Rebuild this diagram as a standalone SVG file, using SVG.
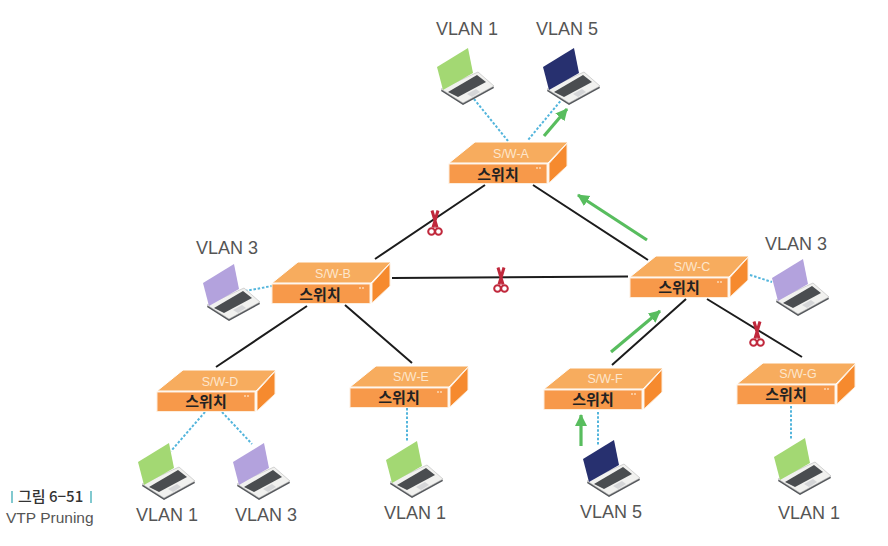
<svg xmlns="http://www.w3.org/2000/svg" width="888" height="546" viewBox="0 0 888 546">
<style>
.v{font:18px "Liberation Sans",Arial,sans-serif;fill:#555;text-anchor:middle}
.n{font:12.500px "Liberation Sans",Arial,sans-serif;fill:#fde6cc;text-anchor:middle}
.k{font:700 15px "Noto Sans CJK KR",sans-serif;fill:#222;text-anchor:middle}
.b{stroke:#1c1c1c;stroke-width:2;fill:none}
.d{stroke:#53b5dc;stroke-width:2;stroke-dasharray:2.500 1.800;fill:none}
.a{stroke:#58bd5e;stroke-width:3.200;fill:none;marker-end:url(#ah)}
.green{fill:#a3d873}.purple{fill:#b3a2dd}.navy{fill:#27306f}
</style>
<defs>
<marker id="ah" markerUnits="userSpaceOnUse" markerWidth="14" markerHeight="14" refX="11" refY="6" orient="auto"><path d="M0 0L12 6L0 12Z" fill="#58bd5e"/></marker>
<symbol id="sw" overflow="visible" width="120" height="45">
<path d="M0 21L26 0H119L99 21Z" fill="#f7ac5e" stroke="#fff" stroke-width="1"/>
<rect x="0" y="22" width="98" height="19.500" fill="#f7994a" stroke="#fdeedd" stroke-width="1"/>
<path d="M100 21.500L118 1.500V24L100 41Z" fill="#f68a2e" stroke="#fdeedd" stroke-width="1"/>
<circle cx="88" cy="26" r="1" fill="#fdd9b5"/><circle cx="91" cy="26" r="1" fill="#fdd9b5"/>
</symbol>
<symbol id="lp" overflow="visible" width="58" height="58">
<path d="M4 43L26 57L57 40L56 38L26 54L5 41Z" fill="#55585c"/>
<path d="M4 41L41 24L57 38L26 55Z" fill="#f1f1ef" stroke="#b9b9b9" stroke-width=".6"/>
<path d="M0 19L31 0L36 25L6 42Z"/>
<path d="M11 44L40 27L49 34L21 49Z" fill="#4a4d50"/>
<path d="M30 46L39 41L43 44L35 49Z" fill="#d5d6d8"/>
</symbol>
<symbol id="sc" overflow="visible" width="14" height="28">
<g fill="none" stroke="#c0283c">
<path d="M4 0.500L9 17.500M10 0.500L5 17.500" stroke-width="3"/>
<circle cx="3.500" cy="21.500" r="3.300" stroke-width="2"/>
<circle cx="10.500" cy="21.500" r="3.300" stroke-width="2"/>
</g>
</symbol>
</defs>
<g id="connectors">
<path class="b" d="M485 185L375 259M533 185L648 260M392 278L628 276.500M307 306L216 367M345 305L412 363M686 299L612 365M707 299L802 357"/>
<path class="d" d="M474 99L508 141M563 98L528 140M245 291L272 286M750 275L772 282M205 412L171 451M222 412L252 444M407 408V442M598 412V445M791 406V440"/>
<path class="a" d="M544 136L567 109"/>
<path class="a" d="M647 240L578 195"/>
<path class="a" d="M611 352L660 311"/>
<path class="a" d="M581 446V415"/>
</g>
<g id="scissors">
<use href="#sc" x="428" y="210"/>
<use href="#sc" x="494" y="267"/>
<use href="#sc" x="750" y="321"/>
</g>
<g id="sw-a"><use href="#sw" x="449" y="142"/><text class="n" x="511" y="158">S/W-A</text><text class="k" x="498" y="180">스위치</text></g>
<g id="sw-b"><use href="#sw" x="272" y="262"/><text class="n" x="333" y="278">S/W-B</text><text class="k" x="320" y="300">스위치</text></g>
<g id="sw-c"><use href="#sw" x="630" y="256"/><text class="n" x="692" y="271">S/W-C</text><text class="k" x="679" y="293">스위치</text></g>
<g id="sw-d"><use href="#sw" x="157" y="370"/><text class="n" x="220" y="386">S/W-D</text><text class="k" x="206" y="407">스위치</text></g>
<g id="sw-e"><use href="#sw" x="350" y="366"/><text class="n" x="411" y="381">S/W-E</text><text class="k" x="399" y="403">스위치</text></g>
<g id="sw-f"><use href="#sw" x="544" y="368"/><text class="n" x="605" y="383">S/W-F</text><text class="k" x="593" y="405">스위치</text></g>
<g id="sw-g"><use href="#sw" x="737" y="363"/><text class="n" x="798" y="378">S/W-G</text><text class="k" x="786" y="400">스위치</text></g>
<g id="pc-a1"><use href="#lp" class="green" x="437" y="48"/><text class="v" x="467" y="35">VLAN 1</text></g>
<g id="pc-a5"><use href="#lp" class="navy" x="543" y="48"/><text class="v" x="567" y="35">VLAN 5</text></g>
<g id="pc-b3"><use href="#lp" class="purple" x="203" y="264"/><text class="v" x="227" y="254">VLAN 3</text></g>
<g id="pc-c3"><use href="#lp" class="purple" x="772" y="259"/><text class="v" x="796" y="250">VLAN 3</text></g>
<g id="pc-d1"><use href="#lp" class="green" x="138" y="443"/><text class="v" x="167" y="521">VLAN 1</text></g>
<g id="pc-d3"><use href="#lp" class="purple" x="233" y="443"/><text class="v" x="266" y="521">VLAN 3</text></g>
<g id="pc-e1"><use href="#lp" class="green" x="386" y="441"/><text class="v" x="415" y="519">VLAN 1</text></g>
<g id="pc-f5"><use href="#lp" class="navy" x="583" y="440"/><text class="v" x="611" y="518">VLAN 5</text></g>
<g id="pc-g1"><use href="#lp" class="green" x="774" y="438"/><text class="v" x="809" y="519">VLAN 1</text></g>
<g id="caption">
<text x="18" y="502" style="font:500 15px 'Noto Sans CJK KR',sans-serif;fill:#333">그림 6−51</text>
<path d="M12 491V503M91 491V503" stroke="#58b8c0" stroke-width="1.500"/>
<text x="6" y="523" style="font:15.500px 'Liberation Sans',Arial,sans-serif;fill:#555">VTP Pruning</text>
</g>
</svg>
